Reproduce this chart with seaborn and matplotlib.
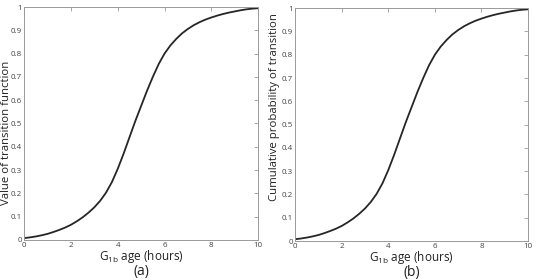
import matplotlib
matplotlib.use("Agg")
import matplotlib.pyplot as plt
import seaborn as sns
import pandas as pd

# ─── Data ────────────────────────────────────────────────────────────────────
age_hours = [0, 0.25, 0.5, 0.75, 1, 1.25, 1.5, 1.75, 2, 2.25, 2.5, 2.75,
             3, 3.25, 3.5, 3.75, 4, 4.25, 4.5, 4.75, 5, 5.25, 5.5, 5.75,
             6, 6.25, 6.5, 6.75, 7, 7.25, 7.5, 7.75, 8, 8.25, 8.5, 8.75,
             9, 9.25, 9.5, 9.75, 10]
transition_value = [0.008, 0.011, 0.015, 0.020, 0.026, 0.034, 0.043, 0.053,
                    0.065, 0.080, 0.097, 0.117, 0.140, 0.168, 0.203, 0.248,
                    0.305, 0.370, 0.440, 0.510, 0.575, 0.640, 0.700, 0.755,
                    0.800, 0.835, 0.863, 0.887, 0.906, 0.922, 0.935, 0.946,
                    0.955, 0.963, 0.970, 0.976, 0.981, 0.986, 0.990, 0.993,
                    0.995]
cumulative_prob = [0.008, 0.011, 0.015, 0.020, 0.026, 0.034, 0.043, 0.053,
                   0.065, 0.080, 0.097, 0.117, 0.140, 0.168, 0.203, 0.248,
                   0.305, 0.370, 0.440, 0.510, 0.575, 0.640, 0.700, 0.755,
                   0.800, 0.835, 0.863, 0.887, 0.906, 0.922, 0.935, 0.946,
                   0.955, 0.963, 0.970, 0.976, 0.981, 0.986, 0.990, 0.993,
                   0.995]
x_ticks = [0, 2, 4, 6, 8, 10]
y_ticks = [0, 0.1, 0.2, 0.3, 0.4, 0.5, 0.6, 0.7, 0.8, 0.9, 1]
y_ticklabels = ["0", "0.1", "0.2", "0.3", "0.4", "0.5", "0.6", "0.7", "0.8", "0.9", "1"]
panels = ["(a)", "(b)"]
y_labels = ["Value of transition function", "Cumulative probability of transition"]

df_a = pd.DataFrame({"age": age_hours, "value": transition_value})
df_b = pd.DataFrame({"age": age_hours, "value": cumulative_prob})

sns.set_style("white")
plt.rcParams["font.family"] = ["Open Sans", "DejaVu Sans"]
plt.rcParams["mathtext.fontset"] = "custom"
plt.rcParams["mathtext.rm"] = "Open Sans"

fig = plt.figure(figsize=(5.6, 2.8), dpi=100)
ax_a = fig.add_axes([0.043, 0.143, 0.418, 0.832])
ax_b = fig.add_axes([0.527, 0.139, 0.416, 0.832])

# label size / position differ a bit between the two panels in the original
# (label coords give the right-hand edge of the rotated text)
label_size = [8.2, 8.2]
label_pos = [(-0.052, 0.46), (-0.066, 0.575)]

for i, (ax, df, ylab, tag) in enumerate(zip([ax_a, ax_b], [df_a, df_b], y_labels, panels)):
    sns.lineplot(data=df, x="age", y="value", color="#262626", linewidth=1.3, ax=ax)
    ax.set_xlim(0, 10)
    ax.set_ylim(0, 1)
    ax.set_xticks(x_ticks)
    ax.set_yticks(y_ticks)
    ax.set_yticklabels(y_ticklabels)
    ax.tick_params(direction="in", length=3, width=0.6, colors="#999999",
                   labelsize=5.8, labelcolor="#444444", top=True, right=True, pad=1.5)
    for sp in ax.spines.values():
        sp.set_color("#999999")
        sp.set_linewidth(0.7)
    ax.set_ylabel(ylab, fontsize=label_size[i], color="#222222")
    ax.yaxis.set_label_coords(*label_pos[i])
    ax.set_xlabel(r"G$_{\mathrm{1b}}$ age (hours)", fontsize=8.5, color="#222222", labelpad=-1)
    ax.text(0.5, -0.135, tag, transform=ax.transAxes, ha="center", va="center",
            fontsize=10, color="#222222")

plt.savefig("out.png", dpi=100)
plt.close()
